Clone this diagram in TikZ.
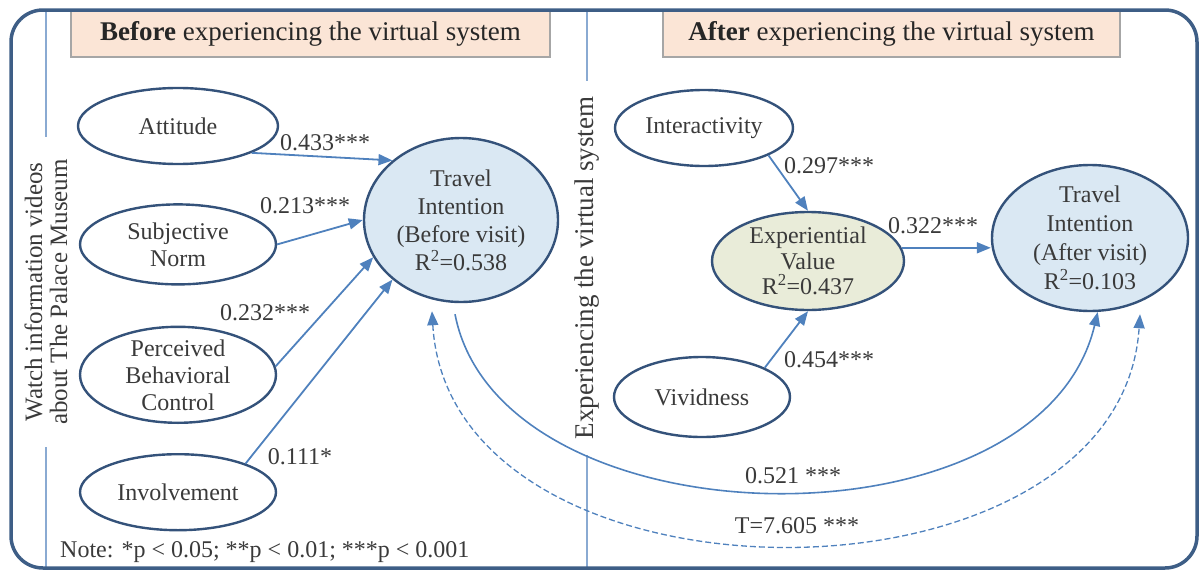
\documentclass[tikz,border=0pt]{standalone}
\usepackage{fontspec}
\setmainfont{Liberation Serif}
\usepackage{tikz}
\usetikzlibrary{positioning, arrows.meta, calc, shapes.geometric}
\definecolor{frameBlue}{HTML}{3E5E86}
\definecolor{nodeLine}{HTML}{34527A}
\definecolor{arrBlue}{HTML}{4F81BD}
\definecolor{divBlue}{HTML}{8AAAD2}
\definecolor{tiFill}{HTML}{DAE8F3}
\definecolor{evFill}{HTML}{E9ECD9}
\definecolor{headFill}{HTML}{FBE5D6}
\definecolor{headLine}{HTML}{A6A6A6}
\definecolor{bodyText}{HTML}{3A3A3A}

\begin{document}
\begin{tikzpicture}[x=1pt, y=-1pt,
      every node/.style={font=\fontsize{24}{27}\selectfont, text=bodyText},
      latent/.style={ellipse, draw=nodeLine, line width=2.4pt, align=center,
                     inner xsep=0pt, inner ysep=0pt, minimum width=196pt, minimum height=76pt},
      target/.style={latent, fill=tiFill, minimum width=194pt, minimum height=164pt},
      mediator/.style={latent, fill=evFill},
      phase/.style={rectangle, draw=headLine, fill=headFill, line width=1.2pt,
                    minimum height=47pt, font=\fontsize{27}{30}\selectfont, text=black!85},
      sidelabel/.style={fill=white, rotate=90, align=center, inner ysep=1pt},
      coef/.style={inner sep=0pt},
      arr/.style={-{Triangle[length=14pt, width=11pt]}, arrBlue, line width=1.8pt},
      dasharr/.style={{Triangle[length=14pt, width=11pt]}-{Triangle[length=14pt, width=11pt]},
                      arrBlue, line width=1.3pt, dash pattern=on 6pt off 3pt},
    ]
      \useasboundingbox (0,0) rectangle (1203,573);

      % dividers and side labels
      \draw[divBlue, line width=1.2pt] (46,10) -- (46,568);
      \draw[divBlue, line width=1.2pt] (587,10) -- (587,568);
      \node[sidelabel, font=\fontsize{25}{25}\selectfont, inner xsep=22pt] (watch) at (46,292)
            {Watch information videos\\about The Palace Museum};
      \node[sidelabel, font=\fontsize{27}{27}\selectfont, inner xsep=16pt] (exper) at (587,268)
            {Experiencing the virtual system};

      % phase headers
      \node[phase, minimum width=479pt] (before) at (310.5,33.5) {\textbf{Before} experiencing the virtual system};
      \node[phase, minimum width=457pt] (after) at (891.5,33.5) {\textbf{After} experiencing the virtual system};

      % before: TPB constructs
      \node[latent, minimum width=200pt] (att) at (178,126) {Attitude};
      \node[latent, minimum height=80pt, below=38pt of att] (sn) {Subjective\\Norm};
      \node[latent, minimum height=96pt, inner ysep=-5pt, below=40pt of sn] (pbc) {Perceived\\Behavioral\\Control};
      \node[latent, below=29pt of pbc] (inv) {Involvement};
      \node[target, font=\fontsize{24}{28}\selectfont] (ti1) at (461,220)
            {Travel\\Intention\\(Before visit)\\R\textsuperscript{2}=0.538};

      % after: virtual system
      \node[latent, minimum width=178pt] (int) at (704,128) {Interactivity};
      \node[mediator, minimum width=192pt, minimum height=98pt, inner ysep=-3pt, font=\fontsize{24}{25.5}\selectfont] (ev) at (808,261)
            {Experiential\\Value\\R\textsuperscript{2}=0.437};
      \node[latent, minimum width=176pt, minimum height=80pt] (viv) at (702,397) {Vividness};
      \node[target, minimum width=196pt, minimum height=146pt, inner ysep=-4pt, font=\fontsize{24}{29}\selectfont] (ti2) at (1090,238)
            {Travel\\Intention\\(After visit)\\R\textsuperscript{2}=0.103};

      % paths
      \draw[arr] (att.-20) -- (ti1.139);
      \draw[arr] (sn.east) -- (ti1.west);
      \draw[arr] (pbc.5) -- (ti1.203);
      \draw[arr] (inv.23) -- (ti1.221);
      \draw[arr] (int.-23) -- (ev.north);
      \draw[arr] (viv.25) -- (ev.south);
      \draw[arr] (ev.8) -- (ev.8 -| ti2.west);

      % before -> after
      \coordinate (solidStart) at ($(ti1.south)+(-6,11)$);
      \coordinate (dashA) at ($(ti1.south)+(-29,8)$);
      \coordinate (dashB) at ($(ti2.south)+(50,2)$);
      \draw[arr, line width=1.6pt] (solidStart) .. controls +(45,232) and +(-58,245) .. (ti2.-84);
      \draw[dasharr] (dashA) .. controls +(18,310) and +(-20,307) .. (dashB);

      % coefficients
      \node[coef] (c1) at (325,143) {0.433***};
      \node[coef] (c2) at (305,206) {0.213***};
      \node[coef] (c3) at (265,313) {0.232***};
      \node[coef] (c4) at (300,457) {0.111*};
      \node[coef] (c5) at (829,166) {0.297***};
      \node[coef] (c6) at (933,226) {0.322***};
      \node[coef] (c7) at (829,360) {0.454***};
      \node[coef] (c8) at (793,476) {0.521 ***};
      \node[coef] (c9) at (797,526) {T=7.605 ***};
      \node[coef, anchor=west] (note) at (60,552) {Note: *p < 0.05; **p < 0.01; ***p < 0.001};

      % outer frame
      \draw[frameBlue, line width=3.5pt, rounded corners=32pt] (11,10) rectangle (1197,568);

    \end{tikzpicture}
\end{document}
